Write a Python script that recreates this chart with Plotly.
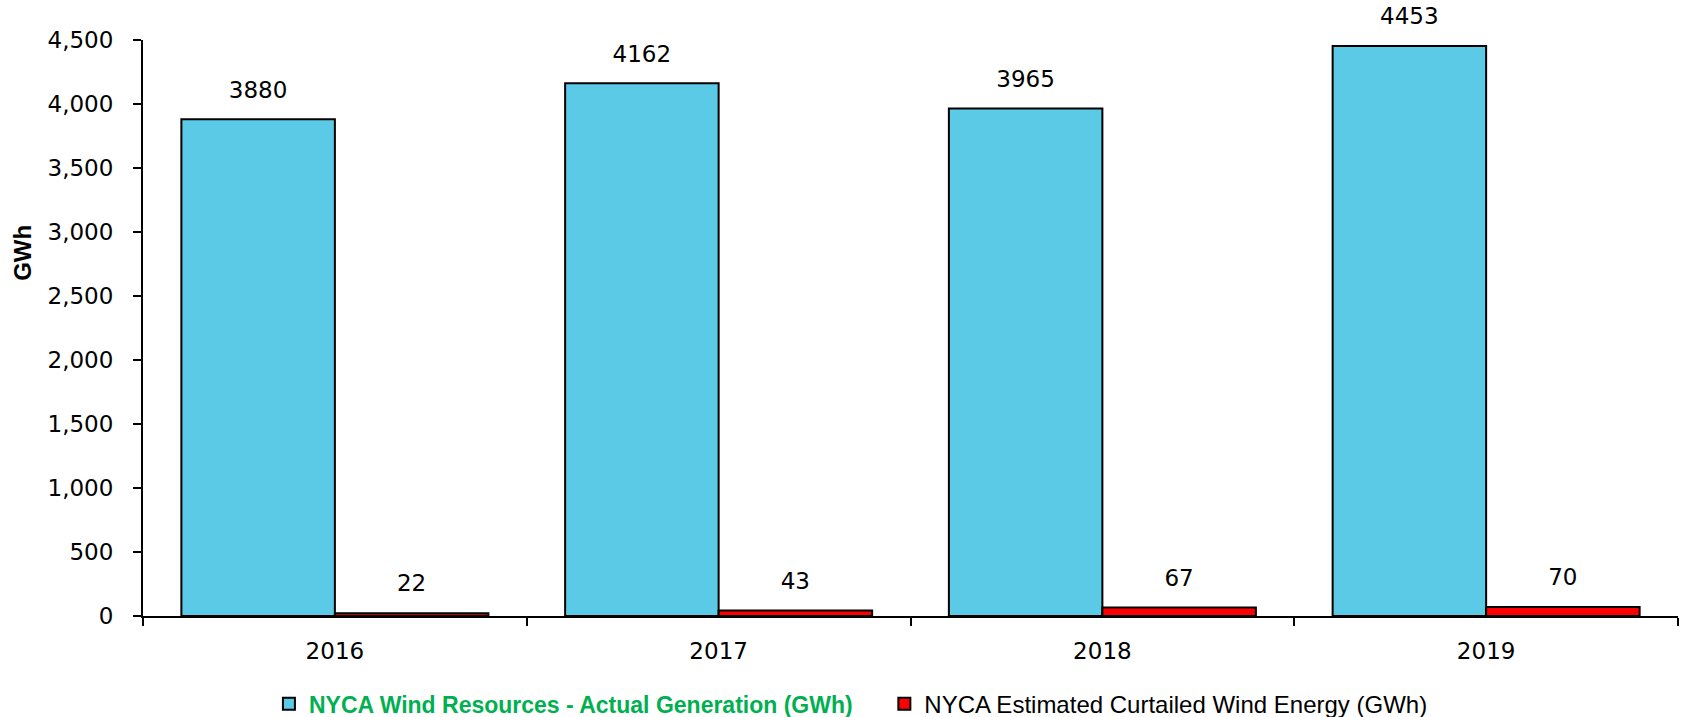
import plotly.graph_objects as go

years = ["2016", "2017", "2018", "2019"]
actual_gen = [3880, 4162, 3965, 4453]
curtailed = [22, 43, 67, 70]
series_names = [
    "<b><span style='color:#00B050;font-size:23px'>NYCA Wind Resources - Actual Generation (GWh)</span></b>&nbsp;&nbsp;&nbsp;&nbsp;",
    "NYCA Estimated Curtailed Wind Energy (GWh)",
]
colors = ["#5BCAE7", "#FF0000"]
y_ticks = [0, 500, 1000, 1500, 2000, 2500, 3000, 3500, 4000, 4500]
y_title = "GWh"

num_font = dict(family="DejaVu Sans", size=23, color="#000000")
txt_font = dict(family="Liberation Sans", size=24, color="#000000")

fig = go.Figure()
for name, vals, col in zip(series_names, [actual_gen, curtailed], colors):
    fig.add_trace(go.Bar(
        x=years, y=vals, name=name,
        marker=dict(color=col, line=dict(color="#000000", width=2)),
        hoverinfo="x+y",
    ))
# data labels (grouped like bars)
for vals in [actual_gen, curtailed]:
    fig.add_trace(go.Scatter(
        x=years, y=vals, mode="markers+text",
        text=[str(v) for v in vals], textposition="top center",
        textfont=num_font,
        marker=dict(size=24, opacity=0),
        showlegend=False, hoverinfo="skip", cliponaxis=False,
    ))

fig.add_annotation(
    text="<b>" + y_title + "</b>", textangle=-90,
    xref="paper", yref="paper", x=-0.079, y=0.63,
    xanchor="center", yanchor="middle", showarrow=False,
    font=dict(family="Liberation Sans", size=24, color="#000000"),
)

fig.update_layout(
    width=1685, height=717,
    margin=dict(l=143, r=7, t=40, b=101),
    paper_bgcolor="white", plot_bgcolor="white",
    barmode="group", bargap=0.2, bargroupgap=0,
    scattermode="group", scattergap=0.2,
    font=txt_font,
    legend=dict(
        orientation="h", xref="container", yref="container",
        x=0.505, xanchor="center", y=0.018, yanchor="middle",
        font=txt_font, itemwidth=30, traceorder="normal",
    ),
    xaxis=dict(
        type="category", showline=True, linecolor="#000000", linewidth=2,
        ticks="outside", tickson="boundaries", ticklen=8, tickwidth=2,
        tickcolor="#000000", tickfont=num_font, ticklabelstandoff=13,
        showgrid=False, zeroline=False, fixedrange=True,
    ),
    yaxis=dict(
        range=[0, 4500], tickvals=y_ticks, tickformat=",",
        showline=True, linecolor="#000000", linewidth=2,
        ticks="outside", ticklen=8, tickwidth=2, tickcolor="#000000",
        tickfont=num_font, ticklabelstandoff=15,
        showgrid=False, zeroline=False,
    ),
)

fig.write_html(
    "out.html",
    config={"displayModeBar": False},
    post_script="document.body.style.margin='0';document.body.style.overflow='hidden';",
)
